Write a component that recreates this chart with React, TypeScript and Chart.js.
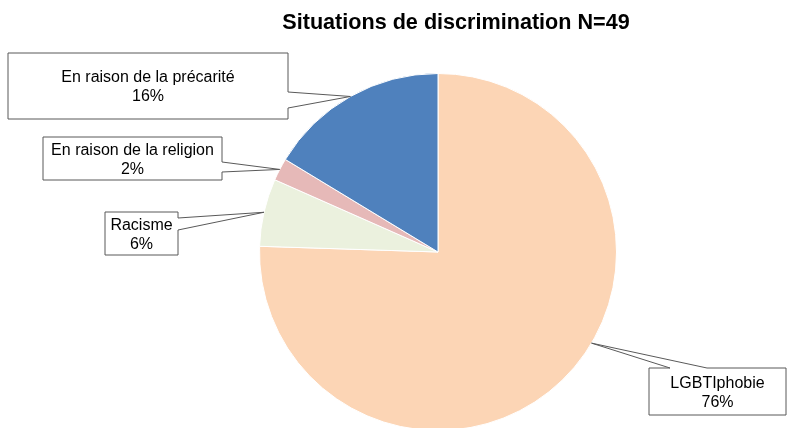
import React, { useEffect, useRef } from "react";
import { Chart, registerables } from "chart.js";

Chart.register(...registerables);

const TITLE = "Situations de discrimination N=49";
const categories = ["LGBTIphobie", "Racisme", "En raison de la religion", "En raison de la précarité"];
const counts = [37, 3, 1, 8];
const percentLabels = ["76%", "6%", "2%", "16%"];
const colors = ["#FCD5B5", "#EBF1DE", "#E6B9B8", "#4F81BD"];

// callout boxes: position of box + pointer base, and where along the slice the pointer touches (0..1)
type Callout = { x: number; y: number; w: number; h: number; side: "top" | "right"; b1: number; b2: number; along: number };
const callouts: Callout[] = [
  { x: 649, y: 368, w: 137, h: 47, side: "top", b1: 670, b2: 707, along: 0.444 },
  { x: 105, y: 212, w: 73, h: 43, side: "right", b1: 218, b2: 230, along: 0.5 },
  { x: 43, y: 137, w: 179, h: 43, side: "right", b1: 162, b2: 172, along: 0.5 },
  { x: 8, y: 53, w: 280, h: 66, side: "right", b1: 92, b2: 108, along: 0.5 },
];

const FONT = '"Liberation Sans", Arial, sans-serif';

const overlayPlugin = {
  id: "overlay",
  afterDraw(chart: any) {
    const ctx = chart.ctx as CanvasRenderingContext2D;
    ctx.save();
    // title
    ctx.fillStyle = "#000";
    ctx.font = `bold 21.6px ${FONT}`;
    ctx.textAlign = "center";
    ctx.textBaseline = "middle";
    ctx.fillText(TITLE, 456, 23);

    const meta = chart.getDatasetMeta(0);
    meta.data.forEach((arc: any, i: number) => {
      const c = callouts[i];
      const { x: cx, y: cy, startAngle, endAngle, outerRadius } = arc.getProps(["x", "y", "startAngle", "endAngle", "outerRadius"], true);
      const a = startAngle + (endAngle - startAngle) * c.along;
      const tx = cx + Math.cos(a) * outerRadius;
      const ty = cy + Math.sin(a) * outerRadius;
      ctx.beginPath();
      const { x, y, w, h } = c;
      if (c.side === "right") {
        ctx.moveTo(x, y);
        ctx.lineTo(x + w, y);
        ctx.lineTo(x + w, c.b1);
        ctx.lineTo(tx, ty);
        ctx.lineTo(x + w, c.b2);
        ctx.lineTo(x + w, y + h);
        ctx.lineTo(x, y + h);
        ctx.closePath();
      } else {
        ctx.moveTo(x, y);
        ctx.lineTo(c.b1, y);
        ctx.lineTo(tx, ty);
        ctx.lineTo(c.b2, y);
        ctx.lineTo(x + w, y);
        ctx.lineTo(x + w, y + h);
        ctx.lineTo(x, y + h);
        ctx.closePath();
      }
      ctx.fillStyle = "#fff";
      ctx.fill();
      ctx.strokeStyle = "#595959";
      ctx.lineWidth = 1;
      ctx.stroke();
      ctx.fillStyle = "#000";
      ctx.font = `16px ${FONT}`;
      const mx = x + w / 2;
      const my = y + h / 2 + 1.5;
      ctx.fillText(categories[i], mx, my - 9.5);
      ctx.fillText(percentLabels[i], mx, my + 9.5);
    });
    ctx.restore();
  },
};

export default function App() {
  const ref = useRef<HTMLCanvasElement>(null);
  useEffect(() => {
    const chart = new Chart(ref.current!, {
      type: "pie",
      data: {
        labels: categories,
        datasets: [
          {
            data: counts,
            backgroundColor: colors,
            borderColor: "#ffffff",
            borderWidth: 1,
          },
        ],
      },
      options: {
        responsive: false,
        animation: false,
        layout: { padding: { left: 259, right: 170, top: 73, bottom: 9 } },
        plugins: {
          legend: { display: false },
          title: { display: false },
          tooltip: { enabled: false },
        },
      },
      plugins: [overlayPlugin],
    });
    return () => chart.destroy();
  }, []);
  return (
    <div style={{ position: "fixed", left: 0, top: 0, width: 787, height: 428, overflow: "hidden", background: "#fff" }}>
      <canvas ref={ref} width={787} height={440} style={{ display: "block" }} />
    </div>
  );
}
